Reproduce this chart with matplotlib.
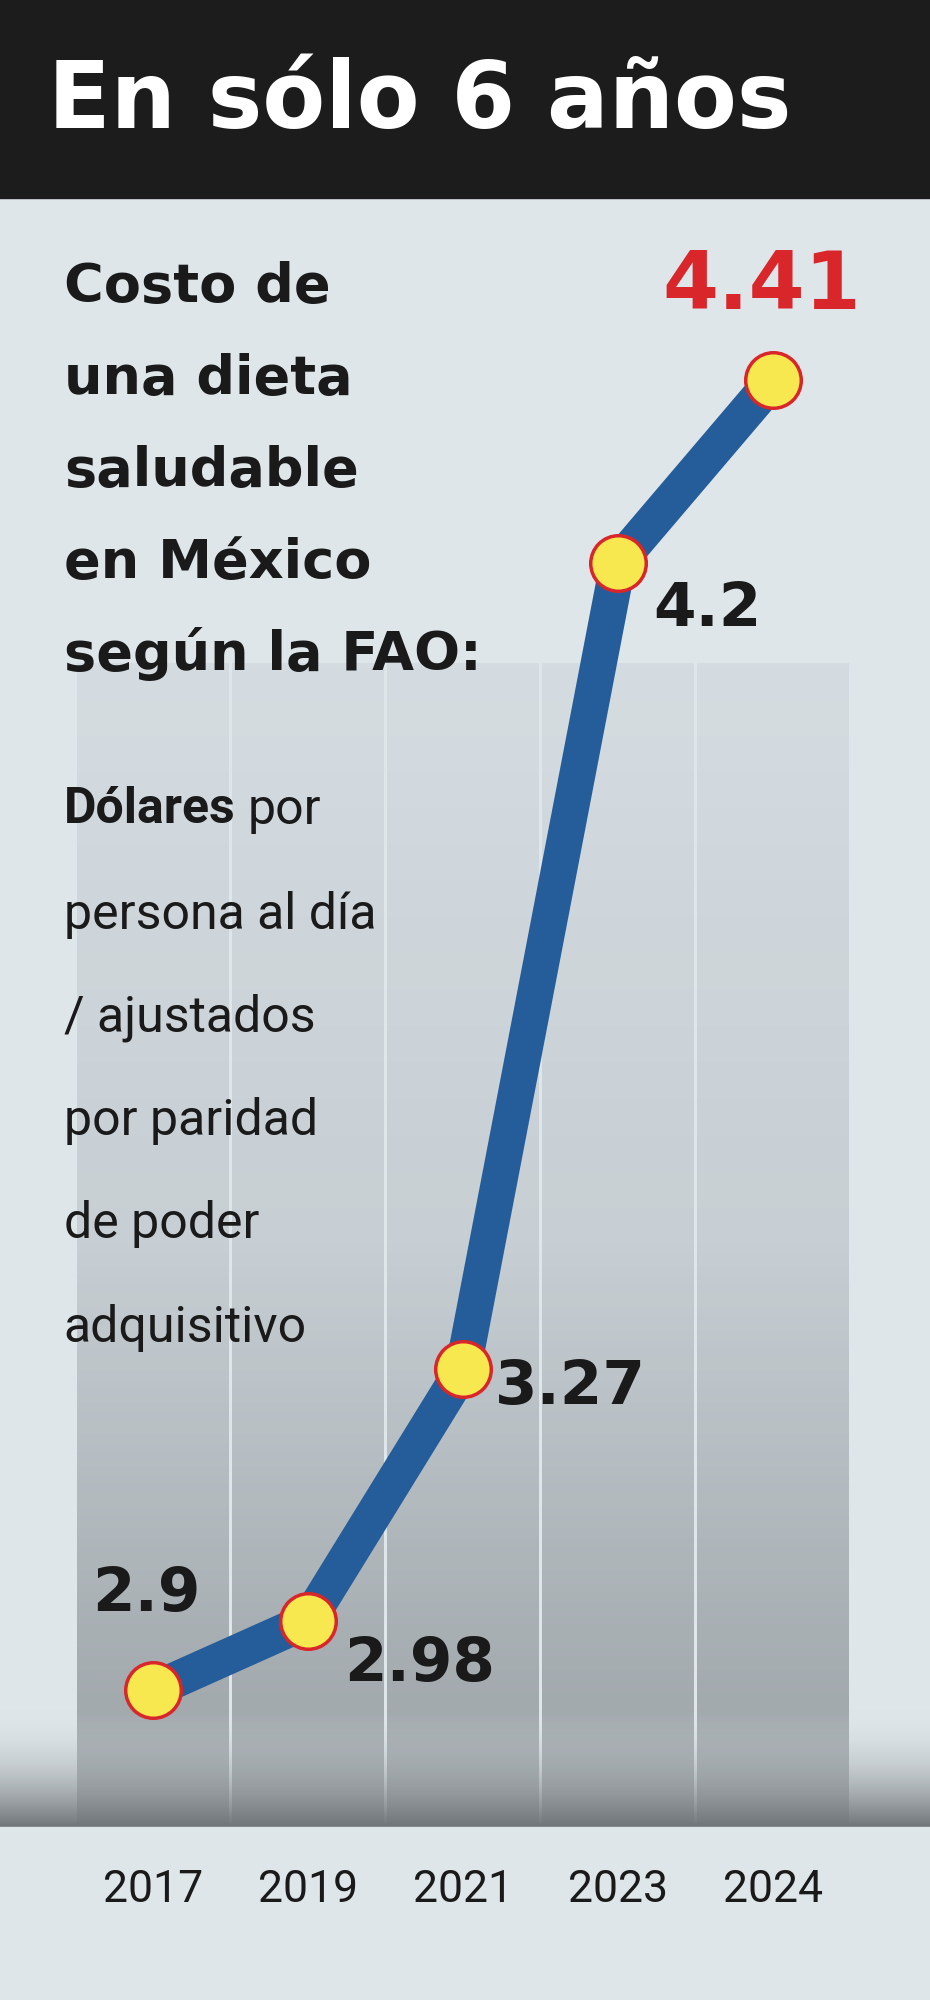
import numpy as np
import matplotlib
matplotlib.use("Agg")
import matplotlib.pyplot as plt
from matplotlib.colors import LinearSegmentedColormap

years = ["2017", "2019", "2021", "2023", "2024"]
values = [2.9, 2.98, 3.27, 4.2, 4.41]
labels = ["2.9", "2.98", "3.27", "4.2", "4.41"]

W, H = 930, 2000
RW, RH = 729, 1568
fig = plt.figure(figsize=(W/100, H/100), dpi=100)
fig.patch.set_facecolor("#dfe6ea")
ax = fig.add_axes([0, 0, 1, 1])
ax.set_facecolor("#dfe6ea")
sp = 121.5
ax.set_xlim(-120/sp, (RW-120)/sp)
ymax = 2.9 + 1325/680
ymin = 2.9 - (RH-1325)/680
ax.set_ylim(ymin, ymax)
ax.axis("off")

def yv(py):
    return 2.9 + (1325-py)/680

x = np.arange(len(years))
grad = np.linspace(0, 1, 256).reshape(-1, 1)
cm = LinearSegmentedColormap.from_list("g", ["#d3dbe0", "#c3cbd0", "#8e9498"])
for i in x:
    ax.imshow(grad, extent=(i-0.49, i+0.49, yv(1430), yv(520)), aspect="auto",
              cmap=cm, origin="upper", zorder=1, alpha=0.85)
sh = LinearSegmentedColormap.from_list("s", ["#dfe6ea00", "#6f7478"])
ax.imshow(grad, extent=(-1, 5.1, yv(1432), yv(1340)), aspect="auto", cmap=sh,
          origin="upper", zorder=1.5)
ax.fill_between([-1, 5.1], yv(RH), yv(1432), color="#dfe6ea", zorder=2)
ax.fill_between([-1, 5.1], yv(155), yv(0), color="#1c1c1c", zorder=2)

ax.plot(x, values, color="#245d9a", lw=26, solid_capstyle="round",
        solid_joinstyle="round", zorder=3)
ax.plot(x, values, "o", ms=40, mfc="#f6e84e", mec="#d8262b", mew=2.5, zorder=4)

lab_pos = [(115, 1250, "center"), (270, 1305, "left"), (388, 1088, "left"),
           (512, 478, "left"), (597, 225, "center")]
for (px, py, ha), lab, i in zip(lab_pos, labels, x):
    red = i == 4
    ax.text(px/sp - 120/sp, yv(py), lab, ha=ha, va="center",
            fontsize=58 if red else 44, fontweight="bold",
            color="#d8262b" if red else "#1a1a1a", family="DejaVu Sans", zorder=5)

nf = ["Roboto", "DejaVu Sans"]
for i, yr in zip(x, years):
    ax.text(i, yv(1482), yr, ha="center", va="center", fontsize=32,
            family=nf, color="#1a1a1a", zorder=5)

fig.text(38/RW, 1-80/RH, "En sólo 6 años", color="white", fontsize=66,
         fontweight="bold", family="DejaVu Sans", va="center", ha="left")

block1 = ["Costo de", "una dieta", "saludable", "en México", "según la FAO:"]
for k, t in enumerate(block1):
    fig.text(50/RW, 1-(225+72*k)/RH, t, fontsize=39, fontweight="bold",
             family="DejaVu Sans", color="#1a1a1a", va="center", ha="left")

t1 = fig.text(50/RW, 1-635/RH, "Dólares", fontsize=36, fontweight="bold", family=nf,
              color="#1a1a1a", va="center", ha="left")
fig.canvas.draw()
bb = t1.get_window_extent()
fig.text((bb.x1 + 12)/W, 1-635/RH, "por", fontsize=36, family=nf,
         color="#1a1a1a", va="center", ha="left")
block2 = ["persona al día", "/ ajustados", "por paridad", "de poder", "adquisitivo"]
for k, t in enumerate(block2):
    fig.text(50/RW, 1-(717+81*k)/RH, t, fontsize=36, family=nf,
             color="#1a1a1a", va="center", ha="left")

fig.savefig("out.png", dpi=100, facecolor=fig.get_facecolor())
